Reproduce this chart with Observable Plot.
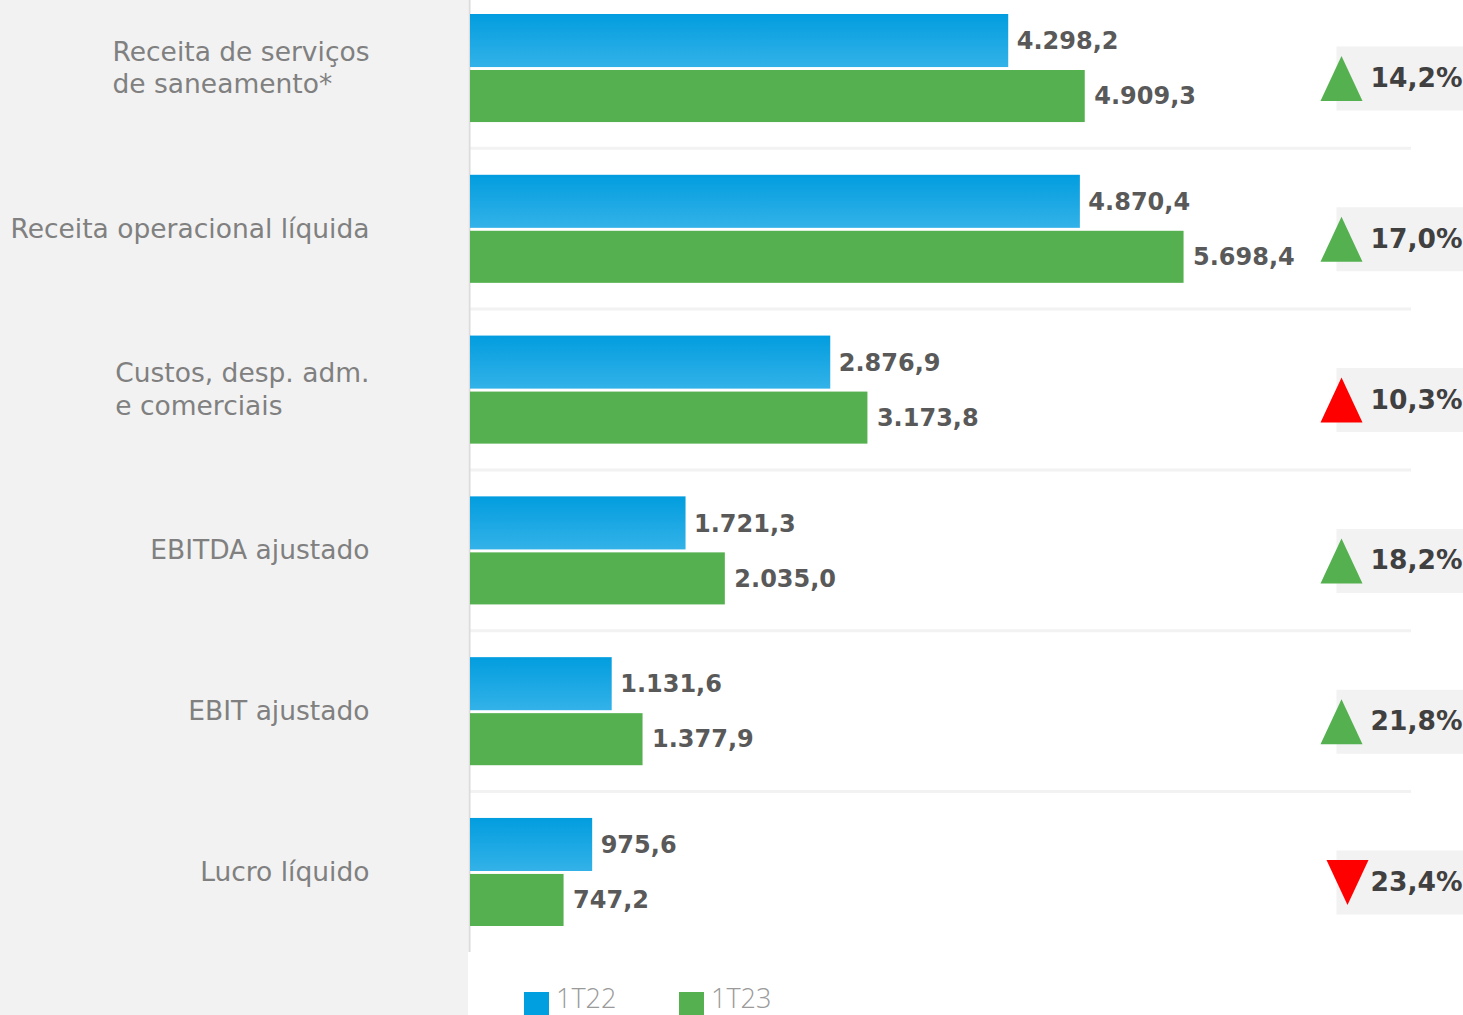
<!DOCTYPE html>
<html>
<head>
<meta charset="utf-8">
<script src="https://cdn.jsdelivr.net/npm/d3@7"></script>
<script src="https://cdn.jsdelivr.net/npm/@observablehq/plot@0.6"></script>
<style>
  html, body { margin: 0; padding: 0; }
  body {
    width: 1463px; height: 1015px; overflow: hidden; position: relative;
    background: linear-gradient(to right, #f2f2f2 0, #f2f2f2 468px, #ffffff 468px);
    font-family: "DejaVu Sans", Verdana, sans-serif;
  }
  #chart { position: absolute; left: 0; top: 0; }
  #legend { position: absolute; left: 524px; top: 985px; display: flex; }
  #legend .item { display: flex; align-items: flex-start; width: 155px; }
  #legend .sw { width: 25px; height: 25px; margin-top: 7px; margin-right: 7px; }
  #legend .lb { font-family: "Open Sans", "Noto Sans", sans-serif; font-weight: 300; font-size: 27px; line-height: 26px; color: #9a9a9a; }
</style>
</head>
<body>
<div id="chart"></div>
<div id="legend"></div>
<script>
// ---- data ----
const categorias = [
  "Receita de serviços\nde saneamento*",
  "Receita operacional líquida",
  "Custos, desp. adm.\ne comerciais",
  "EBITDA ajustado",
  "EBIT ajustado",
  "Lucro líquido"
];
const series = ["1T22", "1T23"];
const valores1T22 = [4298.2, 4870.4, 2876.9, 1721.3, 1131.6, 975.6];
const valores1T23 = [4909.3, 5698.4, 3173.8, 2035.0, 1377.9, 747.2];
const variacao = [14.2, 17.0, 10.3, 18.2, 21.8, 23.4];
const sentido = ["alta", "alta", "alta", "alta", "alta", "queda"];
const avaliacao = ["favoravel", "favoravel", "desfavoravel", "favoravel", "favoravel", "desfavoravel"];

// ---- styles ----
const corSerie = {"1T22": "url(#gradAzul)", "1T23": "#55b04f"};
const corLegenda = {"1T22": "#009fe0", "1T23": "#55b04f"};
const corAvaliacao = {favoravel: "#55b04f", desfavoravel: "#ff0000"};

const loc = d3.formatLocale({decimal: ",", thousands: ".", grouping: [3], currency: ["", ""]});
const fmtValor = loc.format(",.1f");
const fmtPct = loc.format(".1f");

const linhas1T22 = categorias.map((c, i) => ({categoria: c, serie: "1T22", valor: valores1T22[i]}));
const linhas1T23 = categorias.map((c, i) => ({categoria: c, serie: "1T23", valor: valores1T23[i]}));
const linhasVar = categorias.map((c, i) => ({categoria: c, pct: variacao[i], sentido: sentido[i], avaliacao: avaliacao[i]}));

const caixa = {draw(ctx) { ctx.rect(-127, -32, 127, 64); }};
const trianguloCima = {draw(ctx) { ctx.moveTo(0, -22.5); ctx.lineTo(21, 22.5); ctx.lineTo(-21, 22.5); ctx.closePath(); }};
const trianguloBaixo = {draw(ctx) { ctx.moveTo(0, 22.5); ctx.lineTo(21, -22.5); ctx.lineTo(-21, -22.5); ctx.closePath(); }};

const defs = () => {
  const d = d3.create("svg:defs");
  const g = d.append("linearGradient").attr("id", "gradAzul")
    .attr("x1", 0).attr("y1", 0).attr("x2", 0).attr("y2", 1);
  g.append("stop").attr("offset", "0%").attr("stop-color", "#029ddf");
  g.append("stop").attr("offset", "100%").attr("stop-color", "#33b2e8");
  return d.node();
};

const plot = Plot.plot({
  width: 1463,
  height: 952,
  marginLeft: 470,
  marginRight: 0,
  marginTop: 0,
  marginBottom: 0,
  style: {background: "transparent", overflow: "visible", fontFamily: "'DejaVu Sans', Verdana, sans-serif"},
  x: {domain: [0, 7930], axis: null},
  y: {domain: categorias, range: [14, 926], paddingInner: 0.328, paddingOuter: 0, round: false, axis: null},
  marks: [
    defs,
    Plot.ruleY(categorias.slice(1), {y: d => d, dy: -81, stroke: "#f2f2f2", strokeWidth: 3, insetRight: 52}),
    Plot.ruleX([0], {stroke: "#dcdcdc", strokeWidth: 2, dx: -1}),
    Plot.barX(linhas1T22, {x: "valor", y: "categoria", fill: corSerie["1T22"], insetBottom: 55}),
    Plot.barX(linhas1T23, {x: "valor", y: "categoria", fill: corSerie["1T23"], insetTop: 56}),
    Plot.text(linhas1T22, {x: "valor", y: "categoria", text: d => fmtValor(d.valor), dx: 8, dy: -27,
      textAnchor: "start", fontWeight: "bold", fontSize: 24, fill: "#595959"}),
    Plot.text(linhas1T23, {x: "valor", y: "categoria", text: d => fmtValor(d.valor), dx: 9, dy: 28,
      textAnchor: "start", fontWeight: "bold", fontSize: 24, fill: "#595959"}),
    Plot.text(categorias, {y: d => d, text: d => d, frameAnchor: "left", dx: -101, dy: -2, textAnchor: "end",
      fontSize: 26.5, fill: "#808080", lineHeight: 1.22}),
    Plot.dot(linhasVar, {y: "categoria", frameAnchor: "right", dy: 10, symbol: caixa, r: 10, fill: "#f2f2f2", stroke: "none"}),
    Plot.dot(linhasVar.filter(d => d.sentido === "alta"), {y: "categoria", frameAnchor: "right", dx: -122, dy: 10,
      symbol: trianguloCima, r: 21, fill: d => corAvaliacao[d.avaliacao], stroke: "none"}),
    Plot.dot(linhasVar.filter(d => d.sentido === "queda"), {y: "categoria", frameAnchor: "right", dx: -116, dy: 10,
      symbol: trianguloBaixo, r: 21, fill: d => corAvaliacao[d.avaliacao], stroke: "none"}),
    Plot.text(linhasVar, {y: "categoria", frameAnchor: "right", dx: -1, dy: 10, text: d => fmtPct(d.pct) + "%",
      textAnchor: "end", fontWeight: "bold", fontSize: 26.5, fill: "#404040"})
  ]
});

document.getElementById("chart").append(plot);

// left-align multi-line category labels as a block whose right edge is the anchor
plot.querySelectorAll("text").forEach(t => {
  const spans = [...t.querySelectorAll("tspan")];
  if (spans.length > 1) {
    const w = Math.max(...spans.map(s => s.getComputedTextLength()));
    t.setAttribute("text-anchor", "start");
    t.style.textAnchor = "start";
    spans.forEach(s => {
      const xa = +(s.getAttribute("x") || 0);
      s.setAttribute("x", xa - w);
    });
  }
});

// legend
const legend = d3.select("#legend");
series.forEach(s => {
  const item = legend.append("div").attr("class", "item");
  item.append("div").attr("class", "sw").style("background", corLegenda[s]);
  item.append("div").attr("class", "lb").text(s);
});
</script>
</body>
</html>
